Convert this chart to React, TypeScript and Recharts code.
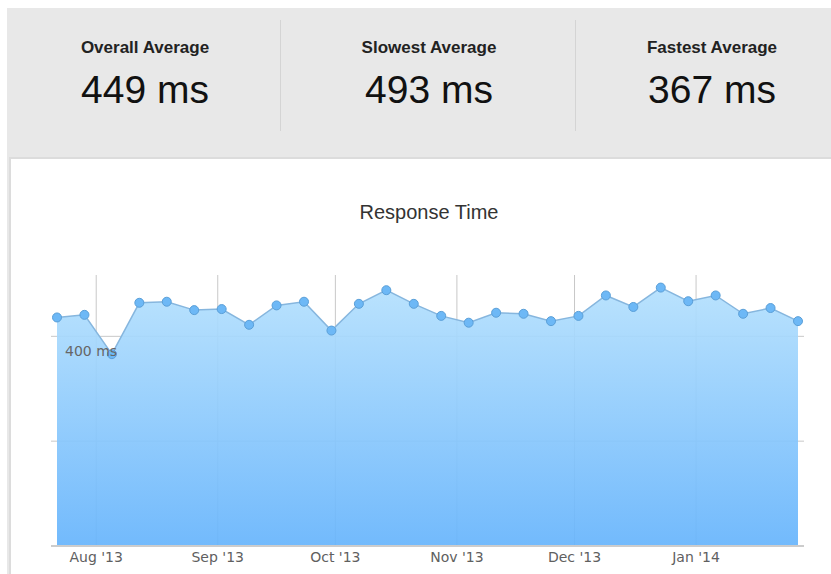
import React from "react";
import { AreaChart, Area, XAxis, YAxis, CartesianGrid, ReferenceLine } from "recharts";

const weekStarts = [
  "2013-07-22", "2013-07-29", "2013-08-05", "2013-08-12", "2013-08-19", "2013-08-26",
  "2013-09-02", "2013-09-09", "2013-09-16", "2013-09-23", "2013-09-30",
  "2013-10-07", "2013-10-14", "2013-10-21", "2013-10-28",
  "2013-11-04", "2013-11-11", "2013-11-18", "2013-11-25",
  "2013-12-02", "2013-12-09", "2013-12-16", "2013-12-23", "2013-12-30",
  "2014-01-06", "2014-01-13", "2014-01-20", "2014-01-27",
];
const responseMs = [
  436, 441, 366, 464, 466, 450, 452, 422, 459, 466, 411,
  462, 488, 462, 439, 426, 445, 443, 429, 439, 478, 456,
  493, 467, 478, 443, 454, 429,
];
const monthTickDates = ["2013-08-01", "2013-09-01", "2013-10-01", "2013-11-01", "2013-12-01", "2014-01-01"];
const monthTickLabels = ["Aug '13", "Sep '13", "Oct '13", "Nov '13", "Dec '13", "Jan '14"];
const yTicks = [0, 200, 400];
const yMax = 517;
const labeledYTick = 400;
const yUnit = "ms";

const statLabels = ["Overall Average", "Slowest Average", "Fastest Average"];
const statValues = [449, 493, 367];

const toTs = (s: string) => {
  const [y, m, d] = s.split("-").map(Number);
  return Date.UTC(y, m - 1, d);
};

const data = weekStarts.map((w, i) => ({ t: toTs(w), ms: responseMs[i] }));
const monthTicks = monthTickDates.map(toTs);

const fmtMonth = (v: number) => {
  const i = monthTicks.indexOf(v);
  return i >= 0 ? monthTickLabels[i] : "";
};

const NoTick = () => <g />;

const YLabel = (props: any) => {
  const vb = props.viewBox || {};
  return (
    <text x={vb.x + 14} y={vb.y + 20} fill="#666" fontSize={14} fontFamily="DejaVu Sans" textAnchor="start">
      {labeledYTick} {yUnit}
    </text>
  );
};

const statCenters = [138, 422, 705];
const separators = [273, 568];

export default function App() {
  return (
    <div
      style={{
        position: "absolute",
        left: 7,
        top: 8,
        width: 824,
        height: 566,
        background: "#e8e8e8",
        overflow: "hidden",
        fontFamily: "'Liberation Sans', Arial, sans-serif",
      }}
    >
      {statLabels.map((l, i) => (
        <React.Fragment key={l}>
          <div
            style={{
              position: "absolute",
              left: statCenters[i] - 150,
              width: 300,
              top: 31,
              textAlign: "center",
              fontSize: 17,
              lineHeight: "17px",
              fontWeight: "bold",
              color: "#222",
            }}
          >
            {l}
          </div>
          <div
            style={{
              position: "absolute",
              left: statCenters[i] - 150,
              width: 300,
              top: 62,
              textAlign: "center",
              fontSize: 39,
              lineHeight: "39px",
              color: "#111",
            }}
          >
            {statValues[i]} ms
          </div>
        </React.Fragment>
      ))}
      {separators.map((x) => (
        <div key={x} style={{ position: "absolute", left: x, top: 12, width: 1, height: 111, background: "#d4d4d4" }} />
      ))}
      <div
        style={{
          position: "absolute",
          left: 2,
          top: 149,
          width: 822,
          height: 417,
          boxSizing: "border-box",
          background: "#fff",
          borderLeft: "2px solid #dcdcdc",
          borderTop: "2px solid #dcdcdc",
        }}
      >
        <div
          style={{
            position: "absolute",
            left: 0,
            width: 836,
            top: 43,
            textAlign: "center",
            fontSize: 20,
            lineHeight: "20px",
            color: "#333",
          }}
        >
          Response Time
        </div>
        <div style={{ position: "absolute", left: 0, top: 0 }}>
          <AreaChart width={820} height={415} data={data} margin={{ top: 116, right: 27, bottom: 0, left: 40 }}>
            <defs>
              <linearGradient id="rtFill" x1="0" y1="0" x2="0" y2="1">
                <stop offset="0%" stopColor="#b4e0fd" />
                <stop offset="100%" stopColor="#66b4fc" />
              </linearGradient>
            </defs>
            <CartesianGrid stroke="#c8c8c8" strokeWidth={1} syncWithTicks />
            <Area
              type="linear"
              dataKey="ms"
              stroke="#86b6de"
              strokeWidth={1.5}
              fill="url(#rtFill)"
              fillOpacity={0.92}
              dot={{ r: 4.5, fill: "#6db8f6", stroke: "#5a9fd8", strokeWidth: 1, fillOpacity: 1 }}
              activeDot={false}
              isAnimationActive={false}
            />
            <XAxis
              dataKey="t"
              type="number"
              scale="time"
              domain={["dataMin", "dataMax"]}
              padding={{ left: 6, right: 6 }}
              ticks={monthTicks}
              tickFormatter={fmtMonth}
              tickLine={false}
              tickMargin={0}
              height={28}
              axisLine={{ stroke: "#cccccc", strokeWidth: 2 }}
              tick={{ fill: "#606060", fontSize: 14, fontFamily: "DejaVu Sans" }}
            />
            <YAxis
              type="number"
              domain={[0, yMax]}
              ticks={yTicks}
              width={0}
              axisLine={false}
              tickLine={false}
              tick={<NoTick />}
            />
            <ReferenceLine
              y={labeledYTick}
              stroke="#c8c8c8"
              strokeOpacity={0}
              zIndex={2000}
              label={<YLabel />}
            />
          </AreaChart>
        </div>
      </div>
    </div>
  );
}
